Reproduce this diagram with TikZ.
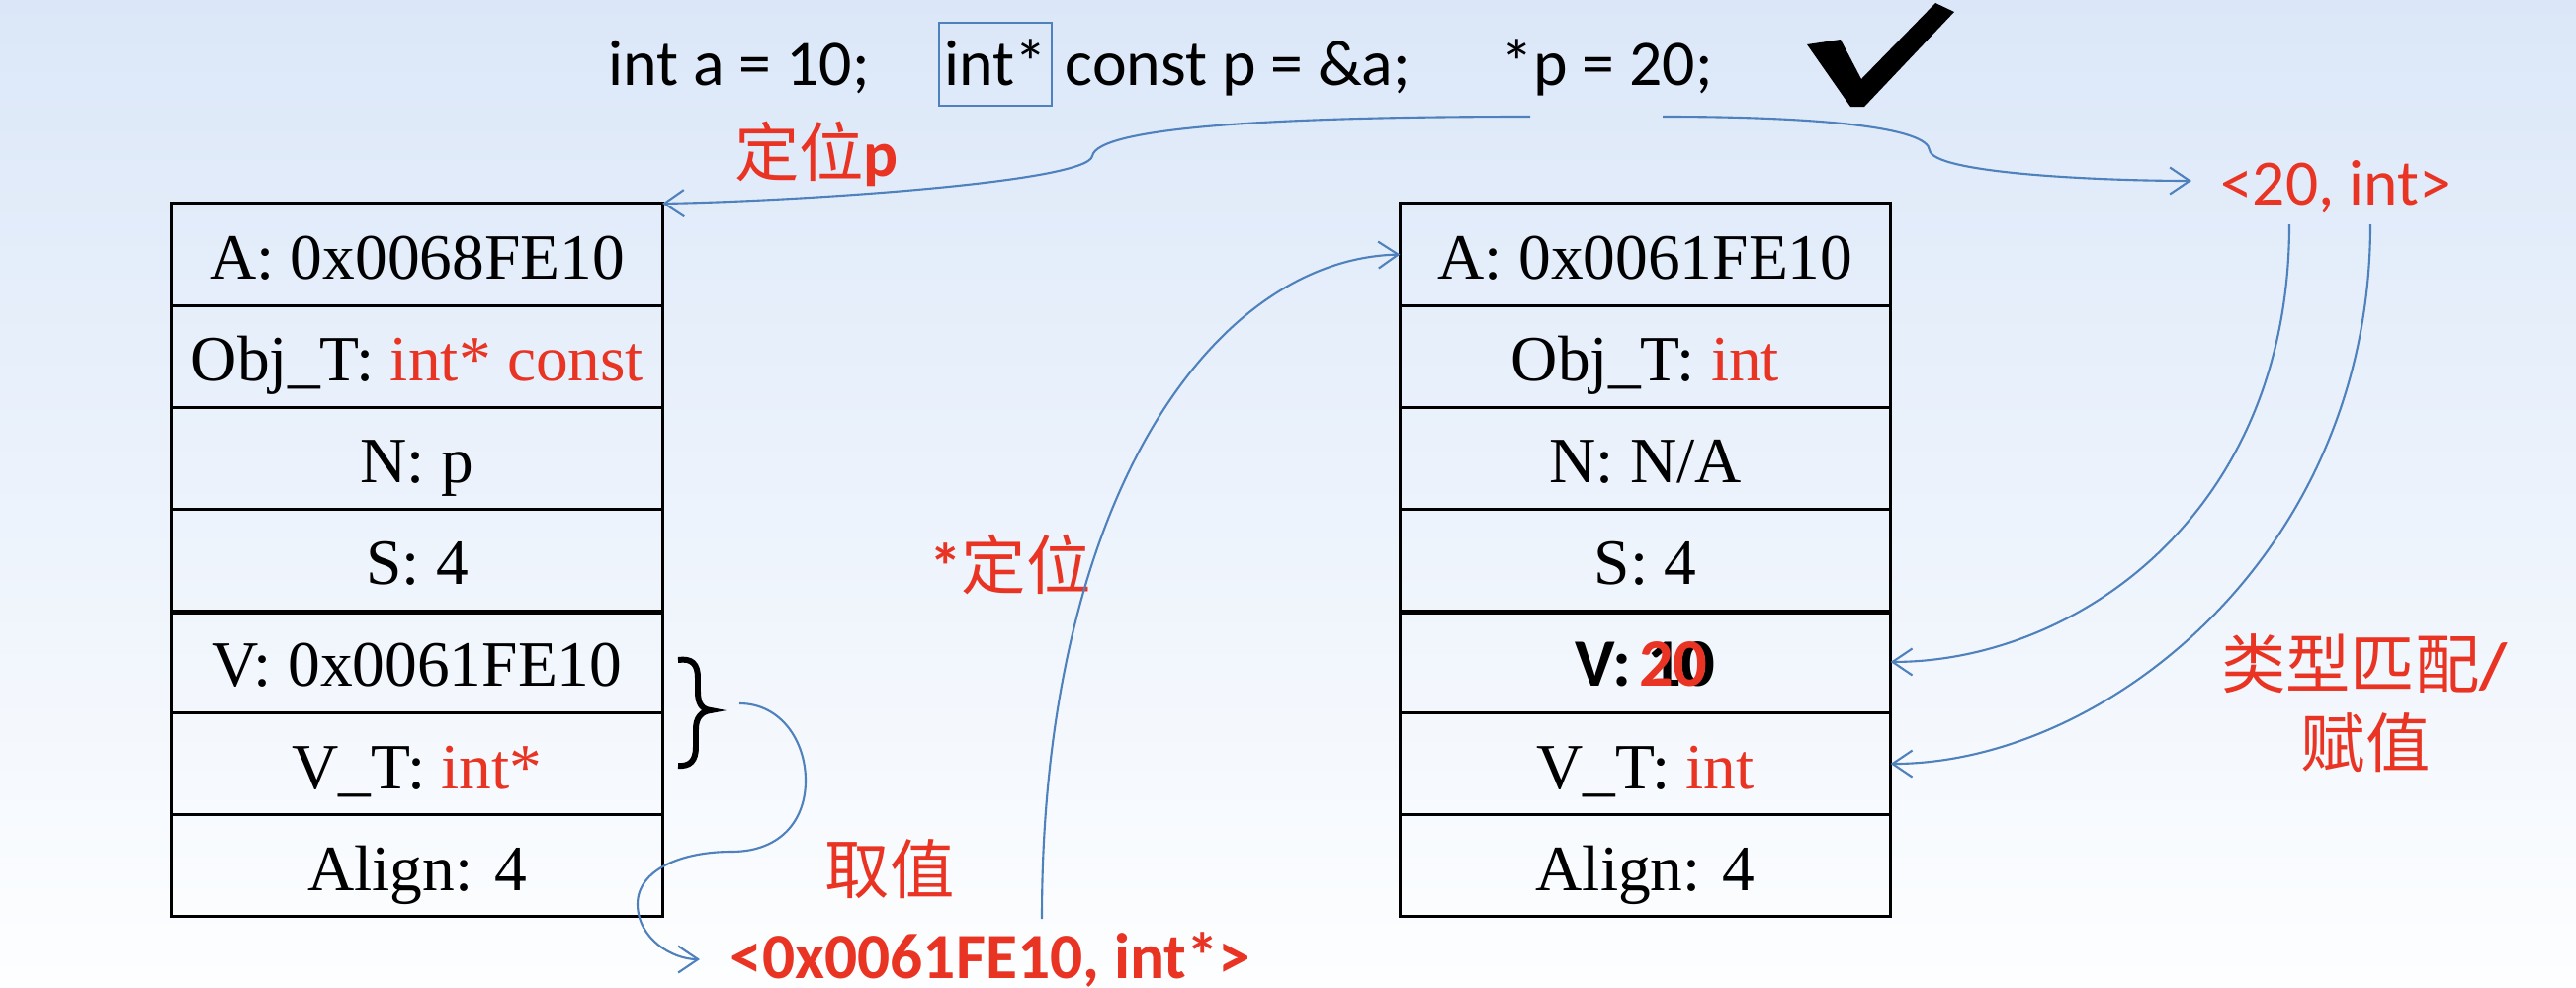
\documentclass[tikz,border=0pt]{standalone}
\usepackage{fontspec}
\setmainfont{Liberation Serif}
\newfontfamily\codefont{Carlito}
\newfontfamily\cjkfont{Noto Sans CJK SC}
\usetikzlibrary{arrows.meta}
\definecolor{hlred}{RGB}{233,51,35}
\definecolor{lnblue}{RGB}{79,129,189}
\definecolor{bgtop}{RGB}{219,231,248}
\definecolor{bgmid}{RGB}{238,244,252}
\definecolor{bgbot}{RGB}{253,254,255}
\begin{document}
\begin{tikzpicture}[x=0.01cm,y=-0.01cm,
  cell/.style={draw=black, line width=0.85pt, minimum width=4.96cm, minimum height=1.031cm,
    inner sep=0pt, outer sep=0pt, text height=0.6cm, text depth=0.1cm,
    font=\fontsize{18.6}{22}\selectfont},
  conn/.style={draw=lnblue, line width=0.6pt, -{Straight Barb[length=0.2cm,width=0.27cm]}},
  code/.style={font=\codefont\fontsize{18.7}{22}\selectfont, inner sep=0pt, anchor=base west},
  lbl/.style={text=hlred, inner sep=0pt, font=\fontsize{18.6}{22}\selectfont},
]
\useasboundingbox (0,0) rectangle (2606,1000);
\shade[top color=bgtop, middle color=bgmid, bottom color=bgbot] (0,0) rectangle (2606,1000);

% code line
\node[code] (c1) at (615,87) {int a = 10;};
\node[code, anchor=base] (c2) at (1007,87) {int*};
\node[draw=lnblue, line width=0.6pt, minimum width=1.14cm, minimum height=0.84cm, inner sep=0pt] (box) at (1007,65) {};
\node[code] (c3) at (1077,87) {const p = \&a;};
\node[code] (c4) at (1518,87) {*p = 20;};
% check mark
\fill[black] (1828,45) -- (1862,40) -- (1883,80) -- (1958,3) -- (1977,12) -- (1886,108) -- (1872,108) -- cycle;

% left table
\node[cell] (l1) at (422,257.55) {A: 0x0068FE10};
\node[cell] (l2) at (422,360.65) {Obj\_T: \textcolor{hlred}{int* const}};
\node[cell] (l3) at (422,463.75) {N: p};
\node[cell] (l4) at (422,566.85) {S: 4};
\node[cell] (l5) at (422,669.95) {V: 0x0061FE10};
\node[cell] (l6) at (422,773.05) {V\_T: \textcolor{hlred}{int*}};
\node[cell] (l7) at (422,876.15) {Align: 4};
\draw[line width=0.85pt] ([yshift=-0.02cm]l5.north west) -- ([yshift=-0.02cm]l5.north east);

% right table
\node[cell] (r1) at (1664.5,257.55) {A: 0x0061FE10};
\node[cell] (r2) at (1664.5,360.65) {Obj\_T: \textcolor{hlred}{int}};
\node[cell] (r3) at (1664.5,463.75) {N: N/A};
\node[cell] (r4) at (1664.5,566.85) {S: 4};
\node[cell] (r5) at (1664.5,669.95) {\codefont\bfseries\fontsize{19.5}{22}\selectfont V: 10\llap{\textcolor{hlred}{20}\hspace{0.12em}}};
\node[cell] (r6) at (1664.5,773.05) {V\_T: \textcolor{hlred}{int}};
\node[cell] (r7) at (1664.5,876.15) {Align: 4};
\draw[line width=0.85pt] ([yshift=-0.02cm]r5.north west) -- ([yshift=-0.02cm]r5.north east);

% brace
\draw[line width=1.7pt] (686,668) .. controls (700,666) and (706,672) .. (706,686) -- (706,700)
  .. controls (706,712) and (710,718) .. (719,719)
  .. controls (710,720) and (704,726) .. (704,738) -- (704,756)
  .. controls (704,770) and (698,776) .. (686,775);

% labels
\node[lbl] (ldp) at (826,156) {\cjkfont 定位\codefont\bfseries p};
\node[lbl, anchor=base] (l20) at (2363,207) {\codefont <20, int>};
\node[lbl] (lsd) at (1022,572) {\codefont\bfseries *\cjkfont\mdseries 定位};
\node[lbl] (lqz) at (900,880) {\cjkfont 取值};
\node[lbl, anchor=base] (lval) at (1002,990) {\codefont\bfseries <0x0061FE10, int*>};
\node[lbl] (llx) at (2392,672) {\cjkfont 类型匹配\codefont\bfseries /};
\node[lbl] (lfz) at (2393,752) {\cjkfont 赋值};

% connector end points
\coordinate (s1) at (1548,118);
\coordinate (s2) at (1682,118);
\coordinate (e2) at (2217,183);
\coordinate (a3) at (2316,227);
\coordinate (a4) at (2398,227);
\coordinate (s5) at (1054,930);
\coordinate (s6) at (748,712);
\coordinate (e6) at (708,971);

\draw[conn] (s1) .. controls (1300,118) and (1110,128) .. (1105,158)
  .. controls (1100,185) and (800,204) .. (l1.north east);
\draw[conn] (s2) .. controls (1850,118) and (1950,130) .. (1952,152)
  .. controls (1955,175) and (2120,183) .. (e2);
\draw[conn] (a3) .. controls (2316,520) and (2100,670) .. (r5.east);
\draw[conn] (a4) .. controls (2398,560) and (2130,773) .. (r6.east);
\draw[conn] (s5) .. controls (1054,500) and (1230,262) .. (r1.west);
\draw[conn] (s6) .. controls (790,712) and (815,750) .. (815,790)
  .. controls (815,830) and (790,862) .. (740,862)
  .. controls (690,862) and (645,880) .. (645,915)
  .. controls (645,950) and (680,971) .. (e6);
\end{tikzpicture}
\end{document}
